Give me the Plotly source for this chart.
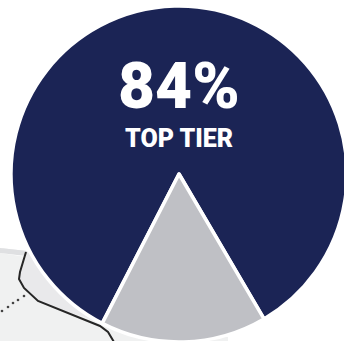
import plotly.graph_objects as go

# Share of respondents per tier
tier_labels = ["Top tier", "Other"]
tier_shares = [84, 16]
tier_colors = ["#1b2455", "#bfc0c5"]

# Inset map behind the pie: land outline, shaded zone, border and dotted route
land_x = [0, 27, 60, 110, 150, 228, 228, 0]
land_y = [253, 257, 290, 322, 336, 337, 342, 342]
zone_x = [0, 12, 27, 60, 103, 60, 38, 24, 19, 21, 26]
zone_y = [248, 249, 251, 290, 322, 310, 301, 288, 279, 270, 256]
shade_x = [0, 12, 27, 26, 12, 0]
shade_y = [248, 249, 251, 256, 254, 253]
border_x = [26, 20, 19, 24, 38, 60, 85, 100, 108, 114]
border_y = [252, 272, 279, 288, 301, 310, 320, 326, 332, 342]
route_x = [2, 8, 13, 18, 24]
route_y = [311, 307, 303, 300, 296]

fig = go.Figure()
fig.add_trace(go.Scatter(x=land_x, y=land_y, mode="lines", fill="toself",
                         fillcolor="#f0f1f1", line=dict(width=0), hoverinfo="skip"))
fig.add_trace(go.Scatter(x=zone_x, y=zone_y, mode="lines", fill="toself",
                         fillcolor="#e9e9eb", line=dict(width=0), hoverinfo="skip"))
fig.add_trace(go.Scatter(x=shade_x, y=shade_y, mode="lines", fill="toself",
                         fillcolor="#dfe0e2", line=dict(width=0), hoverinfo="skip"))
fig.add_trace(go.Scatter(x=border_x, y=border_y, mode="lines",
                         line=dict(color="#262626", width=2), hoverinfo="skip"))
fig.add_trace(go.Scatter(x=route_x, y=route_y, mode="markers",
                         marker=dict(color="#444444", size=2.6), hoverinfo="skip"))

fig.add_trace(go.Pie(
    labels=tier_labels, values=tier_shares, sort=False, direction="clockwise",
    rotation=207.2, textinfo="none", hoverinfo="skip",
    marker=dict(colors=tier_colors, line=dict(color="white", width=3.5)),
    domain=dict(x=[11 / 347, 1], y=[0, 336 / 342]),
))

fig.add_annotation(x=179, y=86, text="84%", showarrow=False,
                   font=dict(family="Roboto, sans-serif", size=64, color="white", weight=900))
fig.add_annotation(x=179, y=138, text="TOP TIER", showarrow=False,
                   font=dict(family="Roboto, sans-serif", size=25, color="white", weight=900))

fig.update_layout(
    width=347, height=342, margin=dict(l=0, r=0, t=0, b=0), showlegend=False,
    paper_bgcolor="white", plot_bgcolor="white",
    xaxis=dict(range=[0, 347], visible=False, fixedrange=True),
    yaxis=dict(range=[342, 0], visible=False, fixedrange=True),
)
fig.write_html("out.html", config=dict(displayModeBar=False))
